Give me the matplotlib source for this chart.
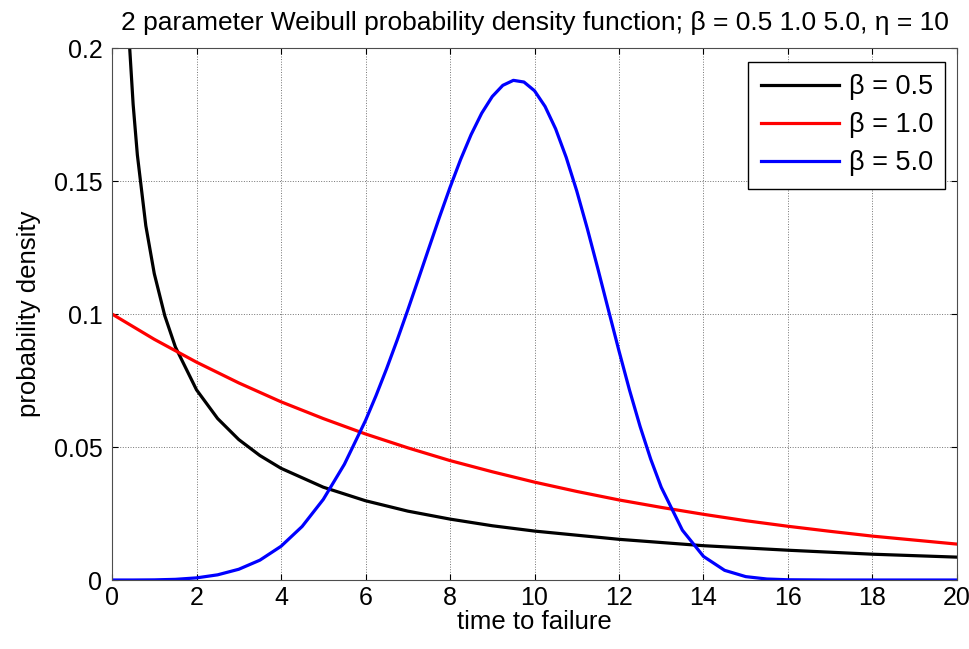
import matplotlib
matplotlib.use("Agg")
from matplotlib import pyplot as plt

plt.rcParams["font.family"] = ["Liberation Sans", "DejaVu Sans"]

# beta = 0.5
t_b05 = [0.3, 0.4, 0.5, 0.6, 0.8, 1.0, 1.25, 1.5, 2.0, 2.5, 3.0, 3.5, 4.0,
         5.0, 6.0, 7.0, 8.0, 9.0, 10.0, 12.0, 14.0, 16.0, 18.0, 20.0]
f_b05 = [0.2428, 0.2047, 0.1788, 0.1598, 0.1332, 0.1152, 0.0993, 0.0876,
         0.0715, 0.0607, 0.0528, 0.0468, 0.0420, 0.0349, 0.0298, 0.0259,
         0.0229, 0.0204, 0.0184, 0.0153, 0.0129, 0.0112, 0.0097, 0.0086]

# beta = 1.0
t_b10 = [0, 1, 2, 3, 4, 5, 6, 7, 8, 9, 10, 11, 12, 13, 14, 15, 16, 17, 18,
         19, 20]
f_b10 = [0.1, 0.0905, 0.0819, 0.0741, 0.0670, 0.0607, 0.0549, 0.0497,
         0.0449, 0.0407, 0.0368, 0.0333, 0.0301, 0.0273, 0.0247, 0.0223,
         0.0202, 0.0183, 0.0165, 0.0150, 0.0135]

# beta = 5.0
t_b50 = [0, 0.5, 1, 1.5, 2, 2.5, 3, 3.5, 4, 4.5, 5, 5.5, 6, 6.25, 6.5, 6.75,
         7, 7.25, 7.5, 7.75, 8, 8.25, 8.5, 8.75, 9, 9.25, 9.5, 9.75, 10,
         10.25, 10.5, 10.75, 11, 11.25, 11.5, 11.75, 12, 12.25, 12.5, 12.75,
         13, 13.5, 14, 14.5, 15, 15.5, 16, 17, 18, 19, 20]
f_b50 = [0, 0, 0.00005, 0.00025, 0.0008, 0.00195, 0.00404, 0.00746, 0.01267,
         0.02013, 0.03029, 0.04351, 0.05995, 0.06936, 0.07948, 0.09023,
         0.10148, 0.11307, 0.12478, 0.13639, 0.14758, 0.15805, 0.16747,
         0.17549, 0.18176, 0.18597, 0.18785, 0.18722, 0.18394, 0.17803,
         0.16962, 0.15890, 0.14626, 0.13211, 0.11702, 0.10150, 0.08611,
         0.07134, 0.05770, 0.04547, 0.03486, 0.01874, 0.008866, 0.003637,
         0.001273, 0.000376, 0.00009, 0, 0, 0, 0]

x_ticks = [0, 2, 4, 6, 8, 10, 12, 14, 16, 18, 20]
y_ticks = [0, 0.05, 0.1, 0.15, 0.2]
y_tick_labels = ["0", "0.05", "0.1", "0.15", "0.2"]

fig = plt.figure(figsize=(9.69, 6.49), dpi=100)
ax = fig.add_axes([0.1156, 0.1063, 0.872, 0.8197])

ax.plot(t_b05, f_b05, color="k", lw=2.3, label="β = 0.5")
ax.plot(t_b10, f_b10, color="#ff0000", lw=2.3, label="β = 1.0")
ax.plot(t_b50, f_b50, color="#0000ff", lw=2.3, label="β = 5.0")

ax.set_xlim(0, 20)
ax.set_ylim(0, 0.2)
ax.set_xticks(x_ticks)
ax.set_yticks(y_ticks)
ax.set_yticklabels(y_tick_labels)
ax.tick_params(direction="in", top=True, right=True, length=4, width=0.8,
               labelsize=18, pad=7)
ax.tick_params(axis="x", pad=4)
ax.grid(True, color="0.45", ls=":", lw=0.7)
for s in ax.spines.values():
    s.set_linewidth(0.8)
    s.set_color("0.3")

ax.set_title("2 parameter Weibull probability density function; β = 0.5 1.0 5.0, η = 10",
             fontsize=19, pad=13)
ax.set_xlabel("time to failure", fontsize=18.5, labelpad=0)
ax.set_ylabel("probability density", fontsize=18.5, labelpad=9)

leg = ax.legend(loc="upper right", bbox_to_anchor=(0.986, 0.974),
                borderaxespad=0, fontsize=19.5, handlelength=2.9,
                handletextpad=0.35, labelspacing=0.45, borderpad=0.45,
                fancybox=False, framealpha=1, edgecolor="k")
leg.get_frame().set_linewidth(1.0)

plt.savefig("out.png", dpi=100)
